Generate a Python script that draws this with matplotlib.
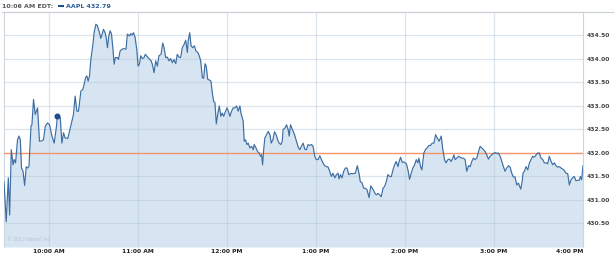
import matplotlib
matplotlib.use('Agg')
import matplotlib.pyplot as plt
from matplotlib.patches import Rectangle
from matplotlib.lines import Line2D

# minutes after 9:30 AM
minutes_a = [0, 1.5, 2.9, 3.8, 4.9, 6.1, 6.9, 7.8, 9.1, 10.1, 11, 11.8, 12.8, 13.9, 15, 15.9, 16.8, 18.2, 18.8, 19.9,
             21, 22.6, 23.9, 25.6, 26.6, 27.8, 29.3, 30.7, 32.3, 33.8, 35.2, 36, 37.9, 39, 40.1, 41.2, 43, 44.1, 45.7, 46.8,
             47.9, 49.1, 50.2, 51.8, 53.1, 54, 54.9, 55.8, 56.7, 57.6, 58.5, 59.9, 60.7, 61.9, 62.9, 64.3, 65.2, 66.1, 67, 68.1,
             68.8, 69.7, 70.6, 71.5, 72.4, 73.3, 74.2, 75, 76.4, 77.1, 78.2, 79.6, 80.9, 82.2, 83.1, 84.5, 85.4, 86.3, 87.2, 88.3,
             89.4, 90.3, 91.2, 92.1, 93.2, 94.3]
prices_a = [431.39, 430.54, 431.47, 430.68, 432.07, 431.75, 431.86, 431.79, 432.28, 432.36, 432.28, 431.68, 431.61, 431.31, 431.71,
            431.68, 431.71, 432.57, 432.60, 433.14, 432.82, 432.96, 432.25, 432.26, 432.28, 432.57, 432.64, 432.60, 432.36, 432.21,
            432.53, 432.79, 432.75, 432.21, 432.43, 432.32, 432.31, 432.46, 432.68, 432.82, 433.21, 432.89, 432.89, 433.32, 433.35,
            433.46, 433.60, 433.64, 433.53, 433.64, 433.99, 434.31, 434.56, 434.74, 434.71, 434.56, 434.44, 434.53, 434.63, 434.56,
            434.46, 434.24, 434.49, 434.60, 434.53, 434.24, 433.89, 434.03, 434.03, 433.99, 434.17, 434.21, 434.22, 434.21, 434.53,
            434.49, 434.54, 434.51, 434.56, 434.46, 434.21, 433.85, 433.89, 434.07, 434.01, 434.03]

minutes_b = [95.2, 96.2, 97.7, 99.1, 99.9, 101.1, 102.2, 103.3, 104.4, 105.8, 106.9, 107.8, 108.9, 110, 111.2, 112.3, 113.4, 114.5,
             115.7, 116.7, 117.9, 119, 120.1, 121.3, 122.4, 123.5, 124.1, 125.1, 126, 127.1, 128.2, 129.3, 130.5, 131.5, 132.5,
             133.6, 134.5, 135.4, 136.2, 137.2, 138.5, 139.4, 140.3, 141.2, 142.1, 143, 144.1, 145, 146.1, 147, 148, 149, 150.2,
             151.1, 152.2, 153.3, 154.4, 155.5, 156.7, 157.8, 158.9, 159.6, 160.5, 161.1, 161.8, 162.7, 163.6, 164.5, 165.6, 166.8,
             167.9, 168.5, 169.7, 170.8, 171.9, 172.8, 173.5, 174.2, 174.8, 175.7, 176.9, 178, 179.1, 180, 181.1, 182.2, 183.3,
             184.3, 185.3, 186.5, 187.4, 188, 189.2, 190.3, 191.4, 192.1, 193, 193.9, 194.8, 195.7]
prices_b = [434.10, 434.06, 434.01, 433.96, 433.89, 433.71, 433.96, 433.85, 434.07, 434.10, 434.34, 434.24, 434.03, 434.04, 433.96,
            434.01, 433.92, 433.99, 433.90, 434.10, 434.04, 434.03, 434.24, 434.31, 434.40, 434.14, 434.39, 434.56, 434.28, 434.24,
            434.28, 434.17, 434.14, 434.07, 433.96, 433.60, 433.59, 433.90, 433.85, 433.57, 433.55, 433.53, 433.28, 433.10, 433.07,
            432.62, 432.85, 433.00, 432.78, 432.85, 432.78, 432.87, 432.96, 432.89, 432.78, 432.89, 432.96, 432.96, 433.00, 432.89,
            433.00, 432.85, 432.75, 432.68, 432.25, 432.28, 432.18, 432.21, 432.11, 432.14, 432.07, 432.18, 432.11, 432.03, 432.00,
            431.93, 431.96, 431.75, 432.03, 432.32, 432.39, 432.46, 432.39, 432.21, 432.28, 432.45, 432.39, 432.28, 432.21, 432.18,
            432.25, 432.50, 432.53, 432.60, 432.50, 432.36, 432.60, 432.53, 432.46, 432.39]

minutes_c = [197, 198.1, 199.2, 200.3, 201.5, 202.6, 203.7, 204.8, 206, 207.1, 208.2, 209.3, 210.4, 211.6, 212.7, 213.8, 214.9, 216,
             217.2, 218.3, 219.4, 220.5, 221.6, 222.8, 223.9, 225, 225.7, 226.6, 227.7, 228.8, 229.9, 231.1, 232.2, 233.3, 235.1,
             236.7, 238, 239.1, 240, 241.1, 242.3, 243.4, 244.5, 245.9, 247, 248.1, 249, 249.9, 250.8, 251.9, 253, 254.1, 255.3,
             256.4, 257.5, 258.6, 259.8, 260.9, 262, 263.1, 264.2, 265.4, 266, 267.1, 268.3, 269.4, 271, 272.1, 273.2, 274.3,
             275.4, 276.6, 277.7, 278.8, 279.5, 280.6, 281.5, 282.8, 284, 285.1, 286.2, 287.3, 288.4, 289.6, 290.7, 291.8, 293.1]
prices_c = [432.25, 432.13, 432.07, 432.14, 432.21, 432.08, 432.07, 432.18, 432.16, 432.18, 432.14, 431.93, 431.86, 431.86, 431.94,
            431.86, 431.79, 431.73, 431.71, 431.70, 431.61, 431.50, 431.57, 431.47, 431.54, 431.57, 431.45, 431.54, 431.47, 431.61,
            431.68, 431.68, 431.54, 431.56, 431.56, 431.57, 431.73, 431.57, 431.39, 431.37, 431.25, 431.25, 431.22, 431.05, 431.30,
            431.25, 431.20, 431.14, 431.11, 431.14, 431.11, 431.07, 431.25, 431.29, 431.39, 431.54, 431.50, 431.50, 431.64, 431.75,
            431.82, 431.71, 431.80, 431.91, 431.80, 431.81, 431.77, 431.64, 431.44, 431.57, 431.68, 431.75, 431.86, 431.79, 431.89,
            431.71, 431.64, 432.00, 432.08, 432.11, 432.16, 432.16, 432.21, 432.21, 432.39, 432.32, 432.25]

minutes_d = [294.5, 295.6, 296.7, 297.8, 299, 300.1, 301.2, 302.3, 303, 303.9, 305, 306.1, 307.3, 308.4, 309.5, 310.6, 311.7, 312.9,
             314, 315.1, 316.2, 317.3, 318.5, 319.6, 320.7, 321.8, 323, 324.1, 325.2, 326.3, 327.4, 328.6, 329.7, 330.8, 331.9, 333,
             334.2, 335.3, 336.4, 337.5, 338.6, 339.8, 340.9, 342, 343.1, 344.2, 345.4, 346.5, 347.4, 348.1, 349, 349.6, 350.5,
             351.6, 352.8, 353.9, 355, 356.1, 357.2, 358.4, 359.5, 360.6, 361.7, 362.9, 364, 365.1, 366.2, 367.3, 368.5, 369.6,
             370.7, 371.8, 372.9, 374.1, 375.2, 376.3, 377.4, 378.5, 379.7, 380.8, 381.9, 383, 384.1, 385.3, 386.4, 387.5, 388.2,
             389.1, 390]
prices_d = [432.36, 432.07, 431.86, 431.79, 431.86, 431.87, 431.82, 431.89, 431.96, 431.86, 431.89, 431.93, 431.91, 431.89, 431.89,
            431.86, 431.61, 431.73, 431.71, 431.82, 431.89, 431.86, 431.89, 432.03, 432.14, 432.11, 432.07, 432.03, 431.96, 431.87,
            431.93, 431.96, 431.99, 432.01, 431.99, 432.00, 431.93, 431.82, 431.71, 431.61, 431.68, 431.73, 431.70, 431.57, 431.49,
            431.49, 431.32, 431.36, 431.29, 431.23, 431.39, 431.57, 431.61, 431.71, 431.64, 431.79, 431.86, 431.93, 431.91, 431.96,
            432.00, 432.00, 431.89, 431.86, 431.79, 431.79, 431.77, 431.93, 431.82, 431.75, 431.79, 431.73, 431.70, 431.71, 431.68,
            431.66, 431.63, 431.57, 431.56, 431.32, 431.43, 431.47, 431.50, 431.41, 431.42, 431.42, 431.50, 431.43, 431.73]

x_tick_minutes = [30, 90, 150, 210, 270, 330, 390]
x_tick_labels = ['10:00 AM', '11:00 AM', '12:00 PM', '1:00 PM', '2:00 PM', '3:00 PM', '4:00 PM']
y_ticks = [430.5, 431.0, 431.5, 432.0, 432.5, 433.0, 433.5, 434.0, 434.5]
prev_close = 432.00
cursor_minute = 36
cursor_price = 432.79
header_time = '10:06 AM EDT:'
symbol = 'AAPL'
copyright_text = '\u00a9 2013 Yahoo! Inc.'

minutes = minutes_a + minutes_b + minutes_c + minutes_d
prices = prices_a + prices_b + prices_c + prices_d

W, H = 615, 257
fig = plt.figure(figsize=(W / 100, H / 100), dpi=100)
fig.patch.set_facecolor('white')

left_px, right_px, top_px, bottom_px = 4, 583, 12, 247
ax = fig.add_axes([left_px / W, 1 - bottom_px / H, (right_px - left_px) / W, (bottom_px - top_px) / H])
ax.set_xlim(0, 390)
ax.set_ylim(430.0, 435.0)

ax.fill_between(minutes, prices, 430.0, color='#d6e5f1', lw=0, zorder=1)
for y in y_ticks:
    if y == prev_close:
        continue
    ax.axhline(y, color='#b3c5d7', lw=0.9, alpha=0.45, zorder=2)
for xm in x_tick_minutes[:-1]:
    ax.axvline(xm, color='#b3c5d7', lw=0.9, alpha=0.45, zorder=2)
ax.axhline(prev_close, color='#f3956c', lw=1.0, zorder=3)
ax.plot(minutes, prices, color='#3d6ea3', lw=0.85, zorder=4)
ax.plot([cursor_minute], [cursor_price], 'o', ms=3.3, color='#1c4d8a', zorder=5)

for side in ['left', 'right', 'top']:
    ax.spines[side].set_color('#cdd5dd')
    ax.spines[side].set_linewidth(0.8)
ax.spines['bottom'].set_visible(False)

ax.yaxis.tick_right()
ax.set_yticks(y_ticks)
ax.set_yticklabels([f'{v:.2f}' for v in y_ticks], fontweight='bold')
ax.tick_params(axis='y', length=0, pad=3, labelsize=4.3, labelcolor='#444444')
ax.set_xticks(x_tick_minutes)
ax.set_xticklabels(x_tick_labels, fontweight='bold')
ax.tick_params(axis='x', length=0, pad=1.5, labelsize=4.3, labelcolor='#222222')
ax.get_xticklabels()[-1].set_ha('right')

ax.text(0.005, 0.02, copyright_text, transform=ax.transAxes, fontsize=3.3,
        color='#b5c3d0', ha='left', va='bottom', zorder=6)

# header
fig.add_artist(Line2D([2 / W, 613 / W], [1 - 12 / H, 1 - 12 / H], color='#c8cfd6', lw=0.8))
fig.text(2 / W, 1 - 6.2 / H, header_time, fontsize=4.5, fontweight='bold', color='#555555',
         ha='left', va='center')
fig.add_artist(Rectangle((57.5 / W, 1 - 7 / H), 6 / W, 2.5 / H, color='#1f4f8c', lw=0))
fig.text(66.5 / W, 1 - 6.2 / H, f'{symbol} {cursor_price:.2f}', fontsize=4.5, fontweight='bold',
         color='#2a5b9a', ha='left', va='center')

fig.savefig('out.png', dpi=100, facecolor='white')
